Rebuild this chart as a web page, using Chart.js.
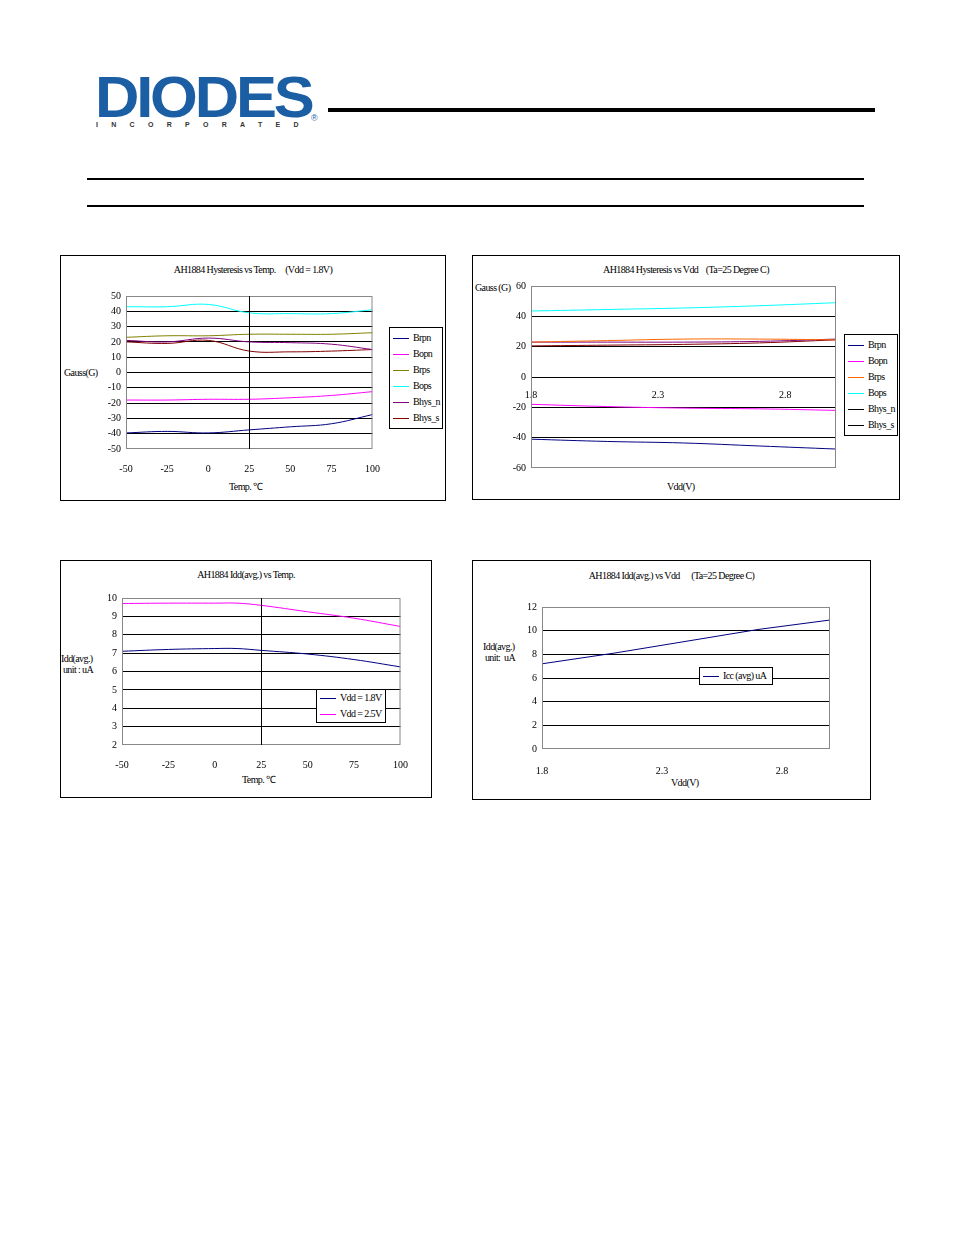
<!DOCTYPE html>
<html>
<head>
<meta charset="utf-8">
<script src="https://cdn.jsdelivr.net/npm/chart.js@4.4.1/dist/chart.umd.min.js"></script>
<style>
  body { margin: 0; width: 954px; height: 1235px; position: relative; background: #fff; font-family: "Liberation Serif", serif; }
  .abs { position: absolute; }
  .box { position: absolute; border: 1px solid #000; box-sizing: border-box; }
  .title { position: absolute; left: 0; right: 0; text-align: center; font-size: 10px; letter-spacing: -0.6px; }
  .lbl { position: absolute; font-size: 10px; letter-spacing: -0.6px; white-space: nowrap; }
  .legend { position: absolute; border: 1px solid #000; background: #fff; font-size: 10px; letter-spacing: -0.6px; padding: 2px 3px; }
  .legend div { height: 16px; line-height: 16px; white-space: nowrap; }
  .legend span.sw { display: inline-block; width: 16px; height: 1px; vertical-align: middle; margin-right: 4px; }
  canvas { position: absolute; }
</style>
</head>
<body>
<div class="abs" style="left:95px;top:68px;font:900 58px 'Liberation Sans',Arial,sans-serif;color:#1b5ea4;letter-spacing:-3px;transform:scaleX(1.06);transform-origin:left;line-height:58px">DIODES</div>
<div class="abs" style="left:96px;top:121px;font:bold 7px 'Liberation Sans',sans-serif;color:#333;letter-spacing:13.3px">INCORPORATED</div>
<div class="abs" style="left:311px;top:113px;font:9px sans-serif;color:#1b5ea4">®</div>
<div class="abs" style="left:328px;top:108px;width:547px;height:4px;background:#000"></div>
<div class="abs" style="left:87px;top:178px;width:777px;height:2px;background:#000"></div>
<div class="abs" style="left:87px;top:205px;width:777px;height:2px;background:#000"></div>

<div class="box" style="left:60px;top:255px;width:386px;height:246px">
  <div class="title" style="top:8px">AH1884 Hysteresis vs Temp.&nbsp;&nbsp;&nbsp;&nbsp; (Vdd = 1.8V)</div>
  <div class="lbl" style="left:3px;top:111px">Gauss(G)</div>
  <div class="lbl" style="left:168px;top:223px">Temp. ℃</div>
  <canvas id="c1"></canvas>
  <div class="legend" id="lg1" style="left:328px;top:71px;width:46px"></div>
</div>
<div class="box" style="left:472px;top:255px;width:428px;height:245px">
  <div class="title" style="top:8px">AH1884 Hysteresis vs Vdd&nbsp;&nbsp;&nbsp; (Ta=25 Degree C)</div>
  <div class="lbl" style="left:2px;top:26px">Gauss (G)</div>
  <div class="lbl" style="left:194px;top:225px">Vdd(V)</div>
  <canvas id="c2"></canvas>
  <div class="legend" id="lg2" style="left:371px;top:78px;width:46px"></div>
</div>
<div class="box" style="left:60px;top:560px;width:372px;height:238px">
  <div class="title" style="top:8px">AH1884 Idd(avg.) vs Temp.</div>
  <div class="lbl" style="left:0px;top:92px">Idd(avg.)<br>&nbsp;unit : uA</div>
  <div class="lbl" style="left:181px;top:211px">Temp. ℃</div>
  <canvas id="c3"></canvas>
  <div class="legend" id="lg3" style="left:255px;top:128px;width:62px;padding:0 3px"></div>
</div>
<div class="box" style="left:472px;top:560px;width:399px;height:240px">
  <div class="title" style="top:9px">AH1884 Idd(avg.) vs Vdd&nbsp;&nbsp;&nbsp;&nbsp;&nbsp; (Ta=25 Degree C)</div>
  <div class="lbl" style="left:10px;top:80px">Idd(avg.)<br>&nbsp;unit:&nbsp; uA</div>
  <div class="lbl" style="left:198px;top:216px">Vdd(V)</div>
  <canvas id="c4"></canvas>
  <div class="legend" id="lg4" style="left:226px;top:106px;width:66px;padding:0 3px"></div>
</div>

<script>
// Chart 1: hysteresis vs temperature (Vdd = 1.8V)
const temps1 = [-50, -25, 0, 25, 50, 75, 100];
const brpn1 = [-39.5, -38.5, -39.5, -37.5, -35.5, -33.5, -27.5];
const bopn1 = [-18, -18, -17.5, -17.5, -16.5, -15, -12.5];
const brps1 = [23, 24, 24, 25, 25, 25, 26];
const bops1 = [43, 43, 44.5, 39, 38.5, 38.5, 41];
const bhysn1 = [21, 20, 22.5, 20, 19.5, 18.5, 15];
const bhyss1 = [20, 19, 21, 14, 13.5, 14, 15];

// Chart 2: hysteresis vs Vdd (Ta = 25C)
const vdd2 = [1.8, 2.1, 2.4, 2.7, 3.0];
const brpn2 = [-41, -42.5, -43.5, -45.5, -47.5];
const bopn2 = [-18, -19.5, -20.5, -21, -22];
const brps2 = [23, 24, 25, 25, 24.5];
const bops2 = [43.5, 44.5, 45.5, 47, 49];
const bhysn2 = [23, 23, 23, 23.5, 25];
const bhyss2 = [20.5, 21, 21.5, 22.5, 24.5];

// Chart 3: Idd vs temperature
const temps3 = [-50, -25, 0, 12, 25, 50, 75, 100];
const idd18 = [7.1, 7.2, 7.25, 7.25, 7.15, 6.95, 6.65, 6.25];
const idd25 = [9.7, 9.72, 9.72, 9.72, 9.6, 9.25, 8.9, 8.45];

// Chart 4: Idd vs Vdd
const vdd4 = [1.8, 2.1, 2.4, 2.7, 3.0];
const icc4 = [7.2, 8.1, 9.1, 10.1, 10.9];

const seriesNames = ['Brpn', 'Bopn', 'Brps', 'Bops', 'Bhys_n', 'Bhys_s'];
const colors1 = ['#000080', '#ff00ff', '#808000', '#00ffff', '#800080', '#800000'];
const colors2 = ['#000080', '#ff00ff', '#ff6600', '#00ffff', '#800080', '#800000'];

const font = { family: 'Liberation Serif', size: 10 };

// gray plot frame + optional vertical line at a data value
const framePlugin = {
  id: 'frame',
  afterDatasetsDraw(chart, args, opts) {
    const a = chart.chartArea, ctx = chart.ctx;
    ctx.save();
    ctx.strokeStyle = '#888'; ctx.lineWidth = 1;
    ctx.strokeRect(a.left + 0.5, a.top + 0.5, a.width - 1, a.height - 1);
    if (opts.vline !== undefined) {
      const x = Math.round(chart.scales.x.getPixelForValue(opts.vline)) + 0.5;
      ctx.strokeStyle = '#000';
      ctx.beginPath(); ctx.moveTo(x, a.top); ctx.lineTo(x, a.bottom); ctx.stroke();
    }
    ctx.restore();
  }
};

function pts(xs, ys) { return xs.map((x, i) => ({ x: x, y: ys[i] })); }

function makeLegend(id, names, colors) {
  document.getElementById(id).innerHTML = names.map((n, i) =>
    `<div><span class="sw" style="background:${colors[i]}"></span>${n}</div>`).join('');
}

function makeChart(id, pos, datasets, xOpts, yOpts, vline) {
  const cv = document.getElementById(id);
  cv.style.left = pos.left + 'px'; cv.style.top = pos.top + 'px';
  cv.width = pos.w; cv.height = pos.h;
  cv.style.width = pos.w + 'px'; cv.style.height = pos.h + 'px';
  return new Chart(cv, {
    type: 'line',
    data: { datasets: datasets },
    options: {
      responsive: false, animation: false,
      layout: { padding: 0 },
      plugins: { legend: { display: false }, tooltip: { enabled: false }, frame: { vline: vline } },
      elements: { point: { radius: 0 }, line: { borderWidth: 1, tension: 0.4 } },
      scales: {
        x: Object.assign({ type: 'linear', grid: { display: false },
          border: { display: false },
          ticks: { color: '#000', font: font, maxRotation: 0, padding: 6 },
          afterFit: s => { s.height = 28; } }, xOpts),
        y: Object.assign({ type: 'linear',
          grid: { color: c => (c.index === 0 || c.index === c.chart.scales.y.ticks.length - 1) ? 'rgba(0,0,0,0)' : '#000', drawTicks: false },
          border: { display: false },
          ticks: { color: '#000', font: font, padding: 5 },
          afterFit: s => { s.width = 34; } }, yOpts)
      }
    },
    plugins: [framePlugin]
  });
}

const d1 = [brpn1, bopn1, brps1, bops1, bhysn1, bhyss1].map((ys, i) =>
  ({ data: pts(temps1, ys), borderColor: colors1[i] }));
makeChart('c1', { left: 31, top: 29, w: 294, h: 192 }, d1,
  { min: -50, max: 100, ticks: { stepSize: 25, color: '#000', font: font, maxRotation: 0, padding: 6 } },
  { min: -50, max: 50, ticks: { stepSize: 10, autoSkip: false, color: '#000', font: font, padding: 5 } }, 25);
makeLegend('lg1', seriesNames, colors1);

const d2 = [brpn2, bopn2, brps2, bops2, bhysn2, bhyss2].map((ys, i) =>
  ({ data: pts(vdd2, ys), borderColor: colors2[i] }));
makeChart('c2', { left: 24, top: 19, w: 343, h: 204 }, d2,
  { min: 1.8, max: 3.0, position: { y: 0 },
    ticks: { callback: v => [1.8, 2.3, 2.8].includes(Math.round(v * 10) / 10) ? v.toFixed(1) : '',
      stepSize: 0.1, autoSkip: false, color: '#000', font: font, maxRotation: 0, padding: 4 },
    afterFit: s => { s.height = 0; } },
  { min: -60, max: 60, ticks: { stepSize: 20, autoSkip: false, color: '#000', font: font, padding: 5 },
    afterFit: s => { s.width = 34; } });
makeLegend('lg2', seriesNames, ['#000080', '#ff00ff', '#ff6600', '#00ffff', '#000', '#000']);

makeChart('c3', { left: 27, top: 26, w: 326, h: 186 },
  [{ data: pts(temps3, idd18), borderColor: '#000080' },
   { data: pts(temps3, idd25), borderColor: '#ff00ff' }],
  { min: -50, max: 100, ticks: { stepSize: 25, color: '#000', font: font, maxRotation: 0, padding: 6 } },
  { min: 2, max: 10, ticks: { stepSize: 1, autoSkip: false, color: '#000', font: font, padding: 5 } }, 25);
makeLegend('lg3', ['Vdd = 1.8V', 'Vdd = 2.5V'], ['#000080', '#ff00ff']);

makeChart('c4', { left: 35, top: 35, w: 330, h: 181 },
  [{ data: pts(vdd4, icc4), borderColor: '#000080', tension: 0 }],
  { min: 1.8, max: 3.0,
    ticks: { callback: v => [1.8, 2.3, 2.8].includes(Math.round(v * 10) / 10) ? v.toFixed(1) : '',
      stepSize: 0.1, autoSkip: false, color: '#000', font: font, maxRotation: 0, padding: 8 } },
  { min: 0, max: 12, ticks: { stepSize: 2, autoSkip: false, color: '#000', font: font, padding: 5 } });
makeLegend('lg4', ['Icc (avg) uA'], ['#000080']);
</script>
</body>
</html>
